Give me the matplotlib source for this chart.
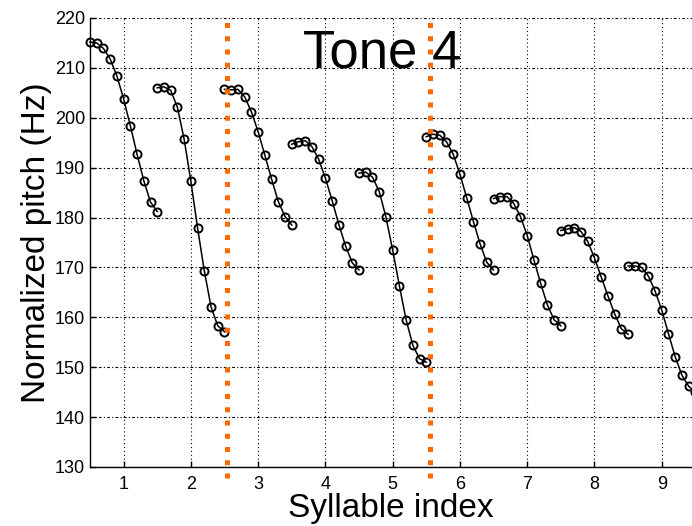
import numpy as np
import matplotlib
matplotlib.use("Agg")
import matplotlib.pyplot as plt

plt.rcParams['font.family'] = ['Liberation Sans', 'DejaVu Sans']

# syllable centres and sample offsets inside each syllable
syllables = [1, 2, 3, 4, 5, 6, 7, 8, 9]
offsets = [-0.5, -0.4, -0.3, -0.2, -0.1, 0.0, 0.1, 0.2, 0.3, 0.4, 0.5]

# pitch contours (Hz), one list per syllable
seg1 = [215.2, 215.0, 213.9, 211.8, 208.4, 203.8, 198.4, 192.7, 187.4, 183.1, 181.2]
seg2 = [206.0, 206.2, 205.5, 202.1, 195.7, 187.3, 177.9, 169.3, 162.1, 158.3, 157.1]
seg3 = [205.7, 205.6, 205.7, 204.2, 201.2, 197.2, 192.5, 187.7, 183.2, 180.2, 178.5]
seg4 = [194.7, 195.2, 195.4, 194.2, 191.7, 187.9, 183.4, 178.6, 174.3, 170.9, 169.5]
seg5 = [188.9, 189.1, 188.1, 185.2, 180.1, 173.5, 166.3, 159.5, 154.4, 151.7, 151.0]
seg6 = [196.2, 196.7, 196.5, 195.2, 192.7, 188.7, 184.0, 179.2, 174.7, 171.0, 169.5]
seg7 = [183.8, 184.2, 184.2, 182.8, 180.2, 176.4, 171.5, 166.8, 162.5, 159.5, 158.3]
seg8 = [177.4, 177.7, 178.0, 177.2, 175.2, 171.9, 168.1, 164.3, 160.7, 157.7, 156.6]
seg9 = [170.3, 170.3, 170.0, 168.3, 165.3, 161.5, 156.7, 152.1, 148.4, 146.2, 145.0]
segments = [seg1, seg2, seg3, seg4, seg5, seg6, seg7, seg8, seg9]

# phrase boundaries
boundaries = [2.53, 5.55]

yticks = [130, 140, 150, 160, 170, 180, 190, 200, 210, 220]

fig = plt.figure(figsize=(6.92, 5.26), dpi=100)
ax = fig.add_axes([0.130, 0.1122, 0.870, 0.8536])

for k, seg in zip(syllables, segments):
    xs = np.array(offsets) + k
    ax.plot(xs, seg, color='black', lw=1.1, marker='o', ms=5.8,
            mfc='none', mec='black', mew=1.4, clip_on=False, zorder=3)

for b in boundaries:
    ax.plot([b, b], [127.8, 220], color='#ff6a00', lw=3.6, ls=':',
            dash_capstyle='butt', clip_on=False, zorder=4)

ax.text(4.84, 210, 'Tone 4', fontsize=38, ha='center', va='baseline', zorder=5)

ax.set_xlim(0.5, 9.45)
ax.set_ylim(130, 220)
ax.set_xticks(syllables)
ax.set_yticks(yticks)

ax.xaxis.grid(True, color='black', lw=0.8, ls=(0, (1, 2.5)))
ax.yaxis.grid(True, color='black', lw=0.8, ls=(0, (2.5, 2, 1, 2)))
ax.set_axisbelow(True)

for s in ['top', 'right']:
    ax.spines[s].set_visible(False)
for s in ['left', 'bottom']:
    ax.spines[s].set_linewidth(1.0)

ax.tick_params(axis='both', direction='in', length=4, width=1.0, labelsize=13)
ax.tick_params(axis='y', pad=3.6)
ax.tick_params(axis='x', pad=6.5)

ax.set_xlabel('Syllable index', fontsize=24, labelpad=0)
ax.set_ylabel('Normalized pitch (Hz)', fontsize=24, labelpad=2)

fig.savefig('out.png', dpi=100)
